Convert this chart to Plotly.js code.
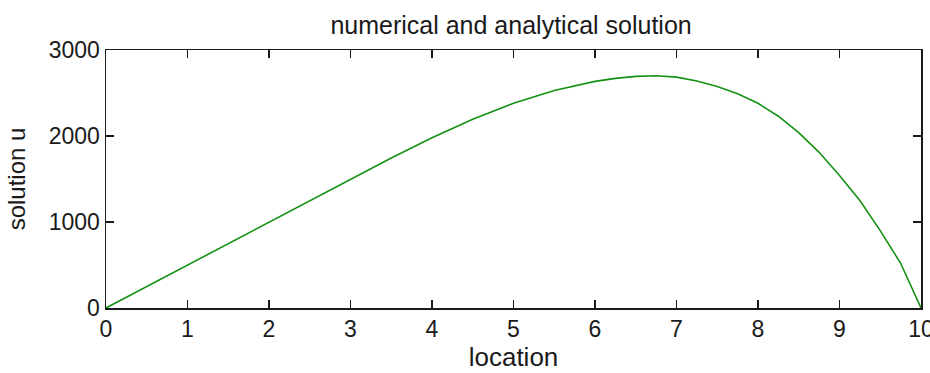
<!DOCTYPE html>
<html>
<head>
<meta charset="utf-8">
<script src="https://cdn.plot.ly/plotly-3.0.1.min.js"></script>
<style>
  html, body { margin: 0; padding: 0; background: #fff; }
  #chart { width: 930px; height: 373px; }
</style>
</head>
<body>
<div id="chart"></div>
<script>
// Solution profile u along the location axis
const positions = [0, 0.5, 1, 1.5, 2, 2.5, 3, 3.5, 4, 4.5, 5, 5.5, 6, 6.25, 6.5, 6.75,
                   7, 7.25, 7.5, 7.75, 8, 8.25, 8.5, 8.75, 9, 9.25, 9.5, 9.75, 10];
const solutionU = [0, 250, 500, 750, 1000, 1250, 1500, 1745, 1980, 2195, 2380, 2530, 2635, 2670, 2693, 2700,
                   2685, 2640, 2575, 2490, 2380, 2230, 2040, 1810, 1540, 1250, 900, 520, 0];

const xTicks = [0, 1, 2, 3, 4, 5, 6, 7, 8, 9, 10];
const yTicks = [0, 1000, 2000, 3000];

const FONT = 'Liberation Sans, Arial, sans-serif';
const INK = '#1a1a1a';

const axisCommon = {
  showgrid: false,
  zeroline: false,
  showline: true,
  linecolor: INK,
  linewidth: 1.5,
  mirror: 'ticks',
  ticks: 'inside',
  ticklen: 8,
  tickwidth: 1.5,
  tickcolor: INK,
  ticklabeloverflow: 'allow',
  tickfont: { family: FONT, size: 23, color: INK }
};

const trace = {
  x: positions,
  y: solutionU,
  type: 'scatter',
  mode: 'lines',
  line: { color: 'rgb(20,145,20)', width: 1.6 },
  hoverinfo: 'x+y'
};

const layout = {
  width: 930,
  height: 373,
  paper_bgcolor: '#fff',
  plot_bgcolor: '#fff',
  margin: { l: 106, r: 9, t: 50, b: 65, pad: 0 },
  showlegend: false,
  title: {
    text: 'numerical and analytical solution',
    font: { family: FONT, size: 25, color: INK },
    x: 0.497, xanchor: 'center', xref: 'paper',
    y: 1 - 25 / 373, yanchor: 'middle'
  },
  xaxis: Object.assign({}, axisCommon, {
    range: [0, 10],
    tickvals: xTicks,
    ticktext: xTicks.map(String),
    title: { text: 'location', font: { family: FONT, size: 26, color: INK }, standoff: 3 }
  }),
  yaxis: Object.assign({}, axisCommon, {
    range: [0, 3000],
    tickvals: yTicks,
    ticktext: yTicks.map(String),
    title: { text: 'solution u', font: { family: FONT, size: 24, color: INK }, standoff: 16 }
  })
};

Plotly.newPlot('chart', [trace], layout, { staticPlot: true, displayModeBar: false });
</script>
</body>
</html>
